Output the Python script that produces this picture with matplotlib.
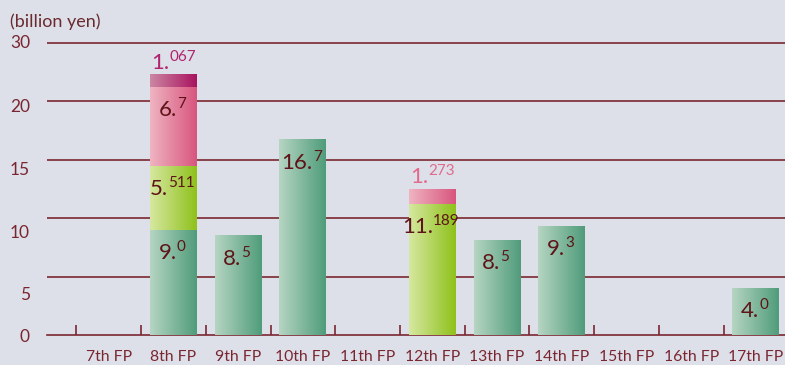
import matplotlib
matplotlib.use("Agg")
import matplotlib.pyplot as plt
import matplotlib.transforms as mtrans
import numpy as np
from matplotlib.colors import LinearSegmentedColormap

plt.rcParams['font.family'] = ['Lato', 'DejaVu Sans']

# ---------------- data ----------------
periods = ["7th FP", "8th FP", "9th FP", "10th FP", "11th FP", "12th FP",
           "13th FP", "14th FP", "15th FP", "16th FP", "17th FP"]
# segment values (billion yen); 0 = no bar
seg_green = [0, 9.0, 8.5, 16.7, 0, 0, 8.1, 9.3, 0, 0, 4.0]
seg_lime = [0, 5.511, 0, 0, 0, 11.189, 0, 0, 0, 0, 0]
seg_pink = [0, 6.7, 0, 0, 0, 1.273, 0, 0, 0, 0, 0]
seg_magenta = [0, 1.067, 0, 0, 0, 0, 0, 0, 0, 0, 0]

lab_green = ["", "9.0", "8.5", "16.7", "", "", "8.5", "9.3", "", "", "4.0"]
lab_lime = ["", "5.511", "", "", "", "11.189", "", "", "", "", ""]
lab_pink = ["", "6.7", "", "", "", "1.273", "", "", "", "", ""]
lab_magenta = ["", "1.067", "", "", "", "", "", "", "", "", ""]

y_ticks = [0, 5, 10, 15, 20, 25]
y_tick_labels = ["0", "5", "10", "15", "20", "30"]

# ---------------- style ----------------
bg = "#dde0e9"
maroon = "#7a2630"
txt_dark = "#5e1418"
grads = {
    "green": ("#b6d5c2", "#4f9c7b"),
    "lime": ("#d6e8a0", "#8fc11b"),
    "pink": ("#efb4c1", "#d8557e"),
    "magenta": ("#cc87a3", "#a8135f"),
}

fig = plt.figure(figsize=(7.85, 3.65), dpi=100, facecolor=bg)
W, H = 785, 365
ax = fig.add_axes([47 / W, 30 / H, (785 - 47) / W, (335 - 40) / H])
ax.set_facecolor(bg)
renderer = fig.canvas.get_renderer()

x = np.arange(len(periods))
width = 0.726

def grad_fill(patches, key):
    cmap = LinearSegmentedColormap.from_list(key, grads[key])
    g = np.linspace(0, 1, 256).reshape(1, -1)
    for p in patches:
        if p.get_height() <= 0:
            continue
        x0, y0 = p.get_x(), p.get_y()
        ax.imshow(g, cmap=cmap, extent=[x0, x0 + p.get_width(), y0, y0 + p.get_height()],
                  aspect='auto', zorder=3, interpolation='bilinear')

def sup_label(xc, yv, s, dy_px, color, main_fs=16, sup_fs=11):
    a, b = s.split(".")
    main = a + "."
    t1 = ax.text(xc, yv, main, fontsize=main_fs, color=color, ha='left', va='baseline', zorder=6)
    t2 = ax.text(xc, yv, b, fontsize=sup_fs, color=color, ha='left', va='baseline', zorder=6)
    w1 = t1.get_window_extent(renderer).width
    w2 = t2.get_window_extent(renderer).width
    gap = 0
    tot = w1 + w2 + gap
    t1.set_transform(mtrans.offset_copy(ax.transData, fig=fig, x=-tot / 2, y=dy_px, units='dots'))
    t2.set_transform(mtrans.offset_copy(ax.transData, fig=fig, x=-tot / 2 + w1 + gap, y=dy_px + 8, units='dots'))

ax.set_xlim(-0.955, 10.45)
ax.set_ylim(0, 295 / 11.68)

bottom = np.zeros(len(x))
segments = [(seg_green, lab_green, "green"), (seg_lime, lab_lime, "lime"),
            (seg_pink, lab_pink, "pink"), (seg_magenta, lab_magenta, "magenta")]
for vals, labs, key in segments:
    vals = np.array(vals, dtype=float)
    bars = ax.bar(x, vals, width, bottom=bottom, color='none', edgecolor='none', zorder=3)
    grad_fill(bars, key)
    for i, (v, l) in enumerate(zip(vals, labs)):
        if v <= 0 or not l:
            continue
        top = bottom[i] + v
        if v < 2:
            col = "#b0246e" if key == "magenta" else "#e06b8c"
            sup_label(x[i], top, l, 6, col)
        else:
            sup_label(x[i] - 0.02, top, l, -29, txt_dark)
    bottom = bottom + vals

ax.set_xlim(-0.955, 10.45)
ax.set_ylim(0, 295 / 11.68)

# gridlines
for yv in y_ticks[1:]:
    ax.axhline(yv, color=maroon, lw=1.2, zorder=1)

for s in ["top", "right", "left"]:
    ax.spines[s].set_visible(False)
ax.spines["bottom"].set_color(maroon)
ax.spines["bottom"].set_linewidth(1.2)

ax.set_yticks([])
ax.set_xticks(x)
ax.set_xticklabels(periods, fontsize=11.3, color=maroon)
ax.tick_params(axis='x', which='major', length=0, pad=11)
ax.set_xticks(np.arange(len(periods)) - 0.5, minor=True)
ax.tick_params(axis='x', which='minor', direction='in', length=7, width=1.2, color=maroon)

# y labels (slightly offset below gridlines, as in reference)
label_pos = [-0.2, 3.4, 8.7, 14.1, 19.5, 25.0]
btf = mtrans.blended_transform_factory(fig.transFigure, ax.transData)
for yp, lab in zip(label_pos, y_tick_labels):
    ax.text(30 / W, yp, lab, transform=btf, ha='right', va='center', fontsize=12.5, color=maroon)

fig.text(10 / W, 1 - 22 / H, "(billion yen)", fontsize=13, color="#6b2a2f", ha='left', va='center')

fig.savefig("out.png", dpi=100, facecolor=bg)
